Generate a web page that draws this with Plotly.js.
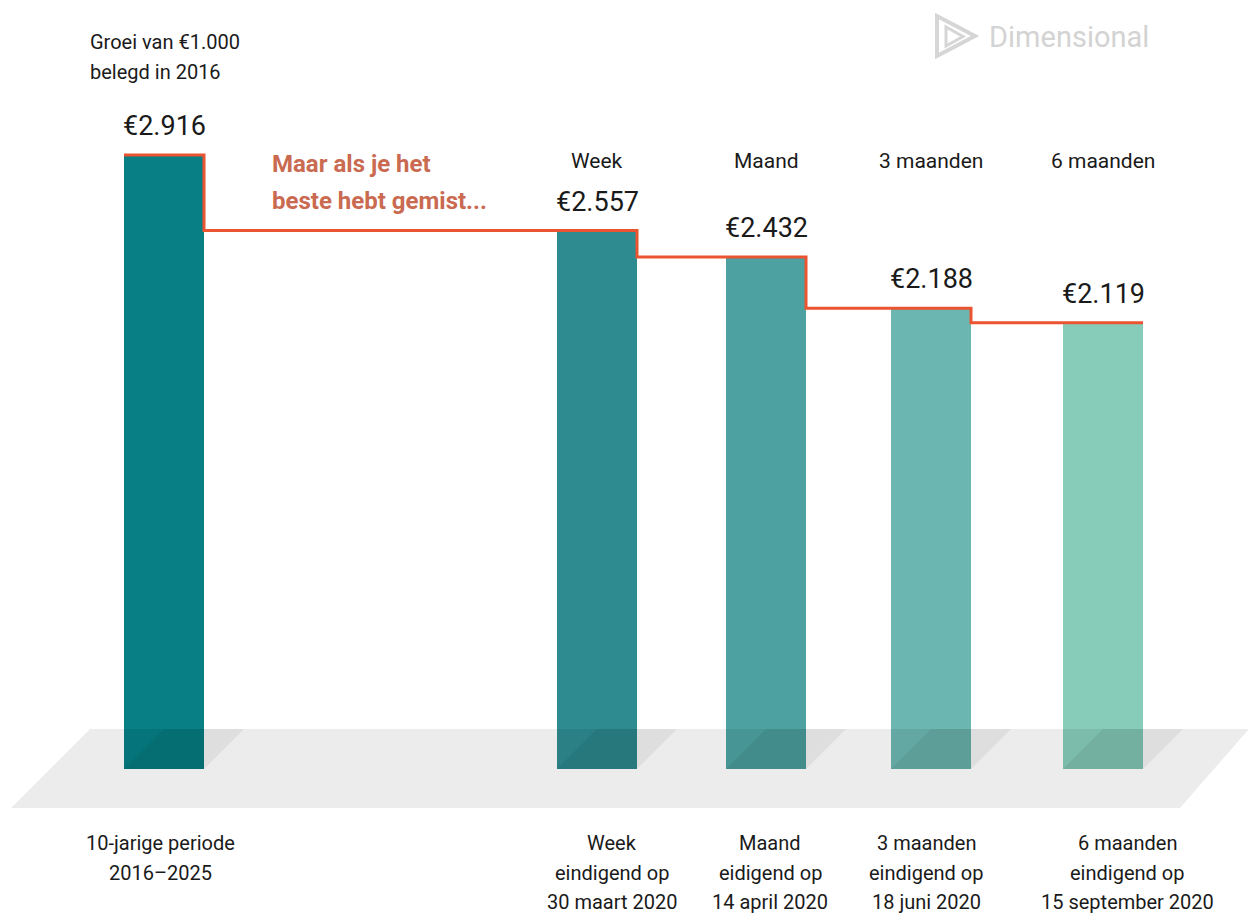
<!DOCTYPE html>
<html>
<head>
<meta charset="utf-8">
<script src="https://cdn.plot.ly/plotly-3.0.1.min.js"></script>
<style>
  html, body { margin: 0; padding: 0; background: #ffffff; }
  #chart { width: 1249px; height: 914px; }
</style>
</head>
<body>
<div id="chart"></div>
<script>
// ---------------- DATA ----------------
const categories = [
  "10-jarige periode<br>2016–2025",
  "Week<br>eindigend op<br>30 maart 2020",
  "Maand<br>eidigend op<br>14 april 2020",
  "3 maanden<br>eindigend op<br>18 juni 2020",
  "6 maanden<br>eindigend op<br>15 september 2020"
];
const headers = ["", "Week", "Maand", "3 maanden", "6 maanden"];
const values = [2916, 2557, 2432, 2188, 2119];
const valueLabels = ["€2.916", "€2.557", "€2.432", "€2.188", "€2.119"];
const titleText = "Groei van €1.000<br>belegd in 2016";
const calloutText = "Maar als je het<br>beste hebt gemist...";
const brandText = "Dimensional";

// ---------------- LAYOUT CONSTANTS ----------------
const W = 1249, H = 914;
const barX = [164, 597, 766, 931, 1103];       // bar centres (px)
const labelX = [160, 612, 770, 926, 1127];     // bottom label centres (px)
const barW = 80;
const baseY = 769;   // pixel of value 0
const topY = 155;    // pixel of largest value
const colors = ["#077f85", "#2e8b90", "#4ea1a1", "#6bb6b1", "#86ccb8"];
const FONT = "Roboto, 'DejaVu Sans Condensed', sans-serif";
const txt = "#1a1a1a";

const pxPerUnit = (baseY - topY) / Math.max(...values);
const yTop = baseY / pxPerUnit;
const yBot = -(H - baseY) / pxPerUnit;

const px = x => x / W;
const py = y => 1 - y / H;
function pathPx(pts) {
  return pts.map((p, i) => (i ? "L" : "M") + px(p[0]).toFixed(5) + "," + py(p[1]).toFixed(5)).join(" ") + " Z";
}

// ---------------- TRACES ----------------
const bars = {
  type: "bar",
  x: barX,
  y: values,
  width: barX.map(() => barW),
  marker: { color: colors, line: { width: 0 } },
  hoverinfo: "skip"
};

const stepX = [barX[0] - barW / 2].concat(barX.map(x => x + barW / 2));
const stepY = values.concat([values[values.length - 1]]);
const step = {
  type: "scatter",
  mode: "lines",
  x: stepX,
  y: stepY,
  line: { shape: "hv", color: "#ea5430", width: 3 },
  hoverinfo: "skip"
};

// ---------------- SHAPES ----------------
const shapes = [];
shapes.push({
  type: "path", xref: "paper", yref: "paper", layer: "above",
  path: pathPx([[11, 808], [1180, 808], [1249, 729], [90, 729]]),
  fillcolor: "rgba(0,0,0,0.075)", line: { width: 0 }
});
barX.forEach(x => {
  const x0 = x - barW / 2, x1 = x + barW / 2;
  shapes.push({
    type: "path", xref: "paper", yref: "paper", layer: "above",
    path: pathPx([[x0, baseY], [x1, baseY], [x1 + 40, 729], [x0 + 40, 729]]),
    fillcolor: "rgba(0,0,0,0.06)", line: { width: 0 }
  });
});
// logo icon
shapes.push({
  type: "path", xref: "paper", yref: "paper", layer: "above",
  path: pathPx([[937, 16], [937, 56], [975, 36]]),
  fillcolor: "rgba(0,0,0,0)", line: { color: "#d6d6d6", width: 4 }
});
shapes.push({
  type: "path", xref: "paper", yref: "paper", layer: "above",
  path: pathPx([[946, 27], [946, 46], [963, 36.5]]),
  fillcolor: "rgba(0,0,0,0)", line: { color: "#d6d6d6", width: 3 }
});

// ---------------- ANNOTATIONS ----------------
const annotations = [];
function addLines(text, xPx, firstCenterPx, spacing, anchor, font, bold) {
  text.split("<br>").forEach((line, j) => {
    annotations.push({
      x: px(xPx), y: py(firstCenterPx + j * spacing), xref: "paper", yref: "paper",
      text: bold ? "<b>" + line + "</b>" : line, showarrow: false,
      xanchor: anchor, yanchor: "middle", font: font
    });
  });
}
// value labels
values.forEach((v, i) => {
  annotations.push({
    x: barX[i], y: v, xref: "x", yref: "y",
    text: valueLabels[i], showarrow: false,
    xanchor: "center", yanchor: "middle", yshift: 29,
    font: { family: FONT, size: 27, color: txt }
  });
});
// headers above bars
headers.forEach((h, i) => {
  if (!h) return;
  addLines(h, barX[i], 161, 0, "center", { family: FONT, size: 21, color: txt });
});
// bottom labels
categories.forEach((c, i) => {
  addLines(c, labelX[i], 843, 29.5, "center", { family: FONT, size: 20, color: txt });
});
// title
addLines(titleText, 88, 42, 30, "left", { family: FONT, size: 20, color: txt });
// callout
addLines(calloutText, 270, 164, 37, "left", { family: FONT, size: 24, color: "#c96a51" }, true);
// brand
annotations.push({
  x: px(987), y: py(37), xref: "paper", yref: "paper",
  text: brandText, showarrow: false, xanchor: "left", yanchor: "middle",
  font: { family: FONT, size: 29, color: "#d3d3d3" }
});

const layout = {
  width: W, height: H,
  margin: { l: 0, r: 0, t: 0, b: 0, pad: 0 },
  paper_bgcolor: "#ffffff", plot_bgcolor: "#ffffff",
  showlegend: false, hovermode: false,
  xaxis: { range: [0, W], visible: false, fixedrange: true },
  yaxis: { range: [yBot, yTop], visible: false, fixedrange: true },
  shapes: shapes,
  annotations: annotations
};

Plotly.newPlot("chart", [bars, step], layout, { displayModeBar: false, staticPlot: true });
</script>
</body>
</html>
